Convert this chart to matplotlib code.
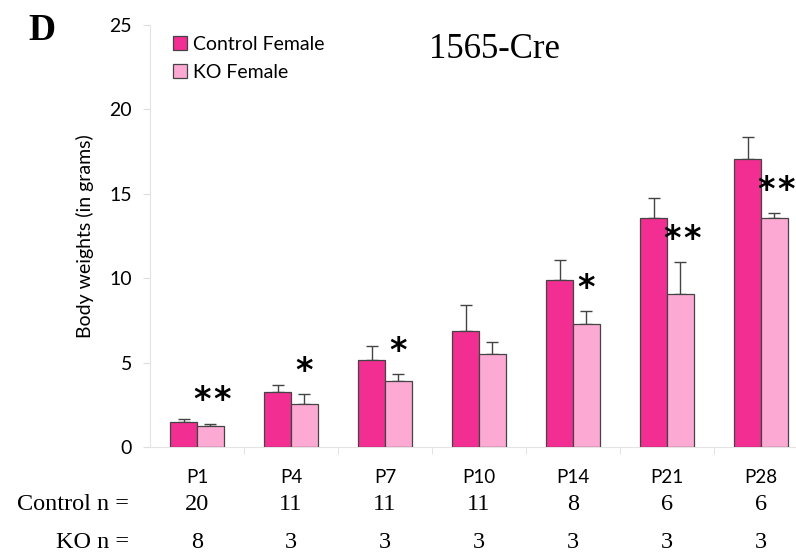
import matplotlib
matplotlib.use("Agg")
import matplotlib.pyplot as plt
import numpy as np

# data
dias = ["P1", "P4", "P7", "P10", "P14", "P21", "P28"]
control = [1.48, 3.25, 5.13, 6.87, 9.88, 13.55, 17.04]
control_err = [0.2, 0.4, 0.85, 1.55, 1.2, 1.2, 1.3]
ko = [1.24, 2.55, 3.9, 5.5, 7.28, 9.05, 13.55]
ko_err = [0.15, 0.6, 0.4, 0.7, 0.75, 1.9, 0.3]
control_n = [20, 11, 11, 11, 8, 6, 6]
ko_n = [8, 3, 3, 3, 3, 3, 3]
signif = [2, 1, 1, 0, 1, 2, 2]   # cantidad de asteriscos

color_ctrl = "#F22E92"
color_ko = "#FCAAD3"
sans = "Lato"
serif = "Liberation Serif"

fig = plt.figure(figsize=(7.96, 5.55), dpi=100)
ax = fig.add_axes([150 / 796, 108 / 555, 1 - 150 / 796, 422 / 555])

x = np.arange(len(dias))
w = 0.285
ax.bar(x - w / 2, control, w, color=color_ctrl, edgecolor="#444444", linewidth=0.9,
       label="Control Female", zorder=3)
ax.bar(x + w / 2, ko, w, color=color_ko, edgecolor="#444444", linewidth=0.9,
       label="KO Female", zorder=3)
ax.errorbar(x - w / 2, control, yerr=[np.zeros(len(x)), control_err], fmt="none",
            ecolor="#444444", elinewidth=1, capsize=4, capthick=1, zorder=2)
ax.errorbar(x + w / 2, ko, yerr=[np.zeros(len(x)), ko_err], fmt="none",
            ecolor="#444444", elinewidth=1, capsize=4, capthick=1, zorder=2)

# asteriscos
for i, n in enumerate(signif):
    if n == 0:
        continue
    tope = ko[i] + ko_err[i] + 1.35
    if n == 1:
        pos = [x[i] + w / 2]
    else:
        c = x[i] + w / 2 + 0.02
        pos = [c - 0.107, c + 0.107]
    for p in pos:
        ax.text(p, tope, "*", ha="center", va="center", fontsize=24,
                family="DejaVu Sans", weight="bold", clip_on=False)

ax.set_xlim(-0.5, 6.5 - 12 / 94)
ax.set_ylim(0, 25)
ax.set_yticks([0, 5, 10, 15, 20, 25])
ax.set_xticks(x)
ax.set_xticklabels(dias, fontsize=13.5, family=sans)
ax.set_xticks(np.arange(0.5, 6.5, 1), minor=True)
ax.tick_params(axis="x", which="major", length=0, pad=16)
ax.tick_params(axis="x", which="minor", length=5, color="#dddddd")
ax.tick_params(axis="y", length=5, color="#dddddd", labelsize=14, pad=8)
for lbl in ax.get_yticklabels():
    lbl.set_family(sans)

for side in ["top", "right"]:
    ax.spines[side].set_visible(False)
ax.spines["left"].set_color("#e4e4e4")
ax.spines["bottom"].set_color("#e4e4e4")

ax.set_ylabel("Body weights (in grams)", fontsize=14, family=sans, labelpad=11)

leg = ax.legend(loc="upper left", bbox_to_anchor=(0.008, 1.015), frameon=False,
                prop={"family": sans, "size": 14}, handlelength=0.72,
                handleheight=0.72, handletextpad=0.35, labelspacing=0.55)

# n por grupo
trans = ax.get_xaxis_transform()
for i in range(len(x)):
    ax.text(x[i], -(505 - 447) / 422, str(control_n[i]), transform=trans, ha="center",
            va="center", fontsize=17.5, family=serif, clip_on=False)
    ax.text(x[i], -(543 - 447) / 422, str(ko_n[i]), transform=trans, ha="center",
            va="center", fontsize=17.5, family=serif, clip_on=False)
fig.text(129 / 796, 1 - 505 / 555, "Control n =", ha="right", va="center",
         fontsize=17.5, family=serif)
fig.text(129 / 796, 1 - 543 / 555, "KO n =", ha="right", va="center",
         fontsize=17.5, family=serif)

fig.text(495 / 796, 1 - 50 / 555, "1565-Cre", ha="center", va="center",
         fontsize=25, family=serif)
fig.text(42 / 796, 1 - 30 / 555, "D", ha="center", va="center", fontsize=27,
         family=serif, weight="bold")

fig.savefig("out.png", dpi=100)
